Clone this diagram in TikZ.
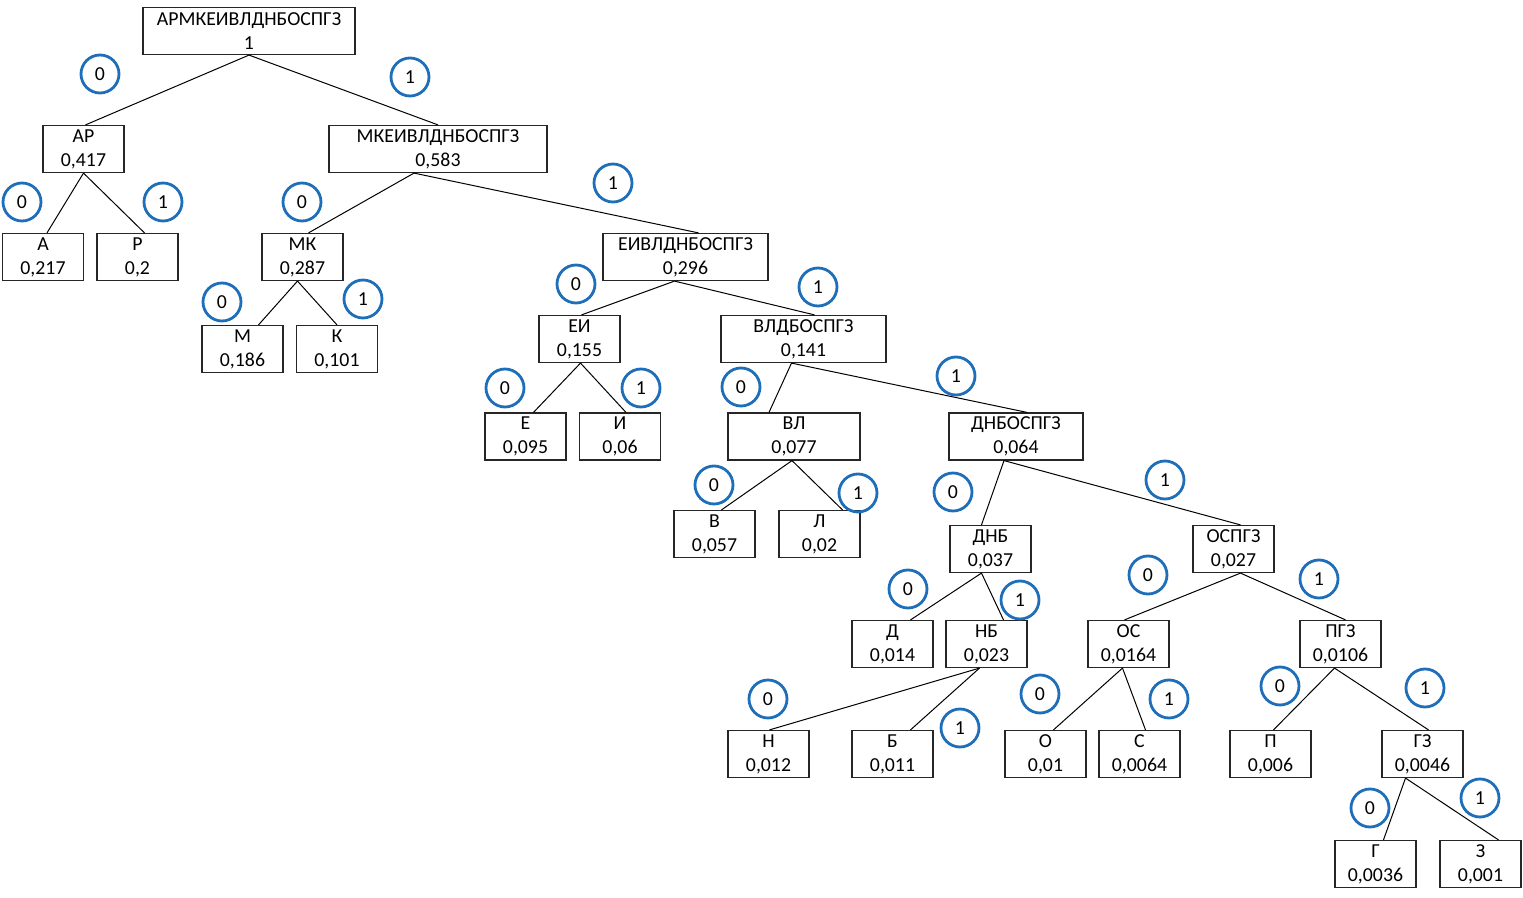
\documentclass[tikz,border=0pt]{standalone}
\usepackage{fontspec}
\setmainfont{Carlito}
\usetikzlibrary{calc}
\definecolor{bitblue}{RGB}{30,110,185}
\begin{document}
\begin{tikzpicture}[x=0.5pt,y=-0.5pt,
  bx/.style={draw=black!85,line width=0.6pt,align=center,inner sep=0pt,minimum width=40.5pt,minimum height=23.5pt,font=\fontsize{9.9pt}{12pt}\selectfont},
  bit/.style={circle,draw=bitblue,line width=1.4pt,minimum size=19pt,inner sep=0pt,font=\fontsize{9.9pt}{12pt}\selectfont},
  edge/.style={line width=0.5pt,black}]
\useasboundingbox (0,0) rectangle (1523,898);
% boxes
\node[bx,minimum width=106pt] (r) at (249,31) {АРМКЕИВЛДНБОСПГЗ\\1};
\node[bx] (ar) at (83.5,149) {АР\\0,417};
\node[bx,minimum width=109pt] (mk1) at (438,149) {МКЕИВЛДНБОСПГЗ\\0,583};
\node[bx] (a) at (43,257) {А\\0,217};
\node[bx] (p) at (137.5,257) {Р\\0,2};
\node[bx] (mk) at (302.5,257) {МК\\0,287};
\node[bx,minimum width=82.5pt] (ei1) at (685.5,257) {ЕИВЛДНБОСПГЗ\\0,296};
\node[bx] (m) at (242.5,349) {М\\0,186};
\node[bx] (k) at (337,349) {К\\0,101};
\node[bx] (ei) at (579.5,339) {ЕИ\\0,155};
\node[bx,minimum width=82.5pt] (vl1) at (803.5,339) {ВЛДБОСПГЗ\\0,141};
\node[bx] (e) at (525.5,436.5) {Е\\0,095};
\node[bx] (i) at (620,436.5) {И\\0,06};
\node[bx,minimum width=66pt] (vl) at (794,436.5) {ВЛ\\0,077};
\node[bx,minimum width=67pt] (dn1) at (1016,436.5) {ДНБОСПГЗ\\0,064};
\node[bx] (v) at (714.5,534) {В\\0,057};
\node[bx] (l) at (819.5,534) {Л\\0,02};
\node[bx] (dnb) at (990.5,549) {ДНБ\\0,037};
\node[bx] (os1) at (1233.5,549) {ОСПГЗ\\0,027};
\node[bx] (d) at (892.5,644) {Д\\0,014};
\node[bx] (nb) at (986.5,644) {НБ\\0,023};
\node[bx] (os) at (1128.5,644) {ОС\\0,0164};
\node[bx] (pgz) at (1340.5,644) {ПГЗ\\0,0106};
\node[bx] (n) at (768.5,754) {Н\\0,012};
\node[bx] (b) at (892.5,754) {Б\\0,011};
\node[bx] (o) at (1045.5,754) {О\\0,01};
\node[bx] (s) at (1139.5,754) {С\\0,0064};
\node[bx] (pp) at (1270.5,754) {П\\0,006};
\node[bx] (gz) at (1422.5,754) {ГЗ\\0,0046};
\node[bx] (g) at (1375.5,864) {Г\\0,0036};
\node[bx] (z) at (1480.5,864) {З\\0,001};
% edges
\draw[edge] (r.south) -- ($(ar.north)+(2,0)$);
\draw[edge] (r.south) -- (mk1.north);
\draw[edge] (ar.south) -- ($(a.north)+(4,0)$);
\draw[edge] (ar.south) -- ($(p.north)+(7,0)$);
\draw[edge] ($(mk1.south)+(-24,0)$) -- ($(mk.north)+(6,0)$);
\draw[edge] ($(mk1.south)+(-24,0)$) -- ($(ei1.north)+(13,0)$);
\draw[edge] ($(mk.south)+(-5,0)$) -- ($(m.north)+(16,0)$);
\draw[edge] ($(mk.south)+(-5,0)$) -- (k.north);
\draw[edge] ($(ei1.south)+(-11,0)$) -- ($(ei.north)+(2,0)$);
\draw[edge] ($(ei1.south)+(-11,0)$) -- ($(vl1.north)+(11,0)$);
\draw[edge] ($(ei.south)+(1,0)$) -- ($(e.north)+(8,0)$);
\draw[edge] ($(ei.south)+(1,0)$) -- ($(i.north)+(6,0)$);
\draw[edge] ($(vl1.south)+(-12,0)$) -- ($(vl.north)+(-25,0)$);
\draw[edge] ($(vl1.south)+(-12,0)$) -- ($(dn1.north)+(11,0)$);
\draw[edge] ($(vl.south)+(-2,0)$) -- ($(v.north)+(7,0)$);
\draw[edge] ($(vl.south)+(-2,0)$) -- ($(l.north)+(23,0)$);
\draw[edge] ($(dn1.south)+(-12,0)$) -- ($(dnb.north)+(-9,0)$);
\draw[edge] ($(dn1.south)+(-12,0)$) -- ($(os1.north)+(7,0)$);
\draw[edge] ($(dnb.south)+(-9,0)$) -- ($(d.north)+(18,0)$);
\draw[edge] ($(dnb.south)+(-9,0)$) -- ($(nb.north)+(17,0)$);
\draw[edge] ($(os1.south)+(7,0)$) -- ($(os.north)+(-4,0)$);
\draw[edge] ($(os1.south)+(7,0)$) -- ($(pgz.north)+(5,0)$);
\draw[edge] ($(nb.south)+(-7,0)$) -- ($(n.north)+(1,0)$);
\draw[edge] ($(nb.south)+(-7,0)$) -- ($(b.north)+(18,0)$);
\draw[edge] ($(os.south)+(-6,0)$) -- ($(o.north)+(8,0)$);
\draw[edge] ($(os.south)+(-6,0)$) -- ($(s.north)+(6,0)$);
\draw[edge] ($(pgz.south)+(-6,0)$) -- ($(pp.north)+(3,0)$);
\draw[edge] ($(pgz.south)+(-6,0)$) -- ($(gz.north)+(6,0)$);
\draw[edge] ($(gz.south)+(-17,0)$) -- ($(g.north)+(8,0)$);
\draw[edge] ($(gz.south)+(-17,0)$) -- ($(z.north)+(18,0)$);
% bit circles
\node[bit] (c1) at (100,74) {0};
\node[bit] (c2) at (410,77) {1};
\node[bit] (c3) at (22,202) {0};
\node[bit] (c4) at (163,202) {1};
\node[bit] (c5) at (302,202) {0};
\node[bit] (c6) at (613,183) {1};
\node[bit] (c7) at (222,302) {0};
\node[bit] (c8) at (363,299) {1};
\node[bit] (c9) at (576,284) {0};
\node[bit] (c10) at (818,287) {1};
\node[bit] (c11) at (505,388) {0};
\node[bit] (c12) at (641,388) {1};
\node[bit] (c13) at (741,387) {0};
\node[bit] (c14) at (956,376) {1};
\node[bit] (c15) at (714,485) {0};
\node[bit] (c16) at (858,493) {1};
\node[bit] (c17) at (953,492) {0};
\node[bit] (c18) at (1165,480) {1};
\node[bit] (c19) at (908,589) {0};
\node[bit] (c20) at (1020,600) {1};
\node[bit] (c21) at (1148,575) {0};
\node[bit] (c22) at (1319,579) {1};
\node[bit] (c23) at (768,699) {0};
\node[bit] (c24) at (960,728) {1};
\node[bit] (c25) at (1040,694) {0};
\node[bit] (c26) at (1169,699) {1};
\node[bit] (c27) at (1280,686) {0};
\node[bit] (c28) at (1425,688) {1};
\node[bit] (c29) at (1370,808) {0};
\node[bit] (c30) at (1480,798) {1};
\end{tikzpicture}
\end{document}
